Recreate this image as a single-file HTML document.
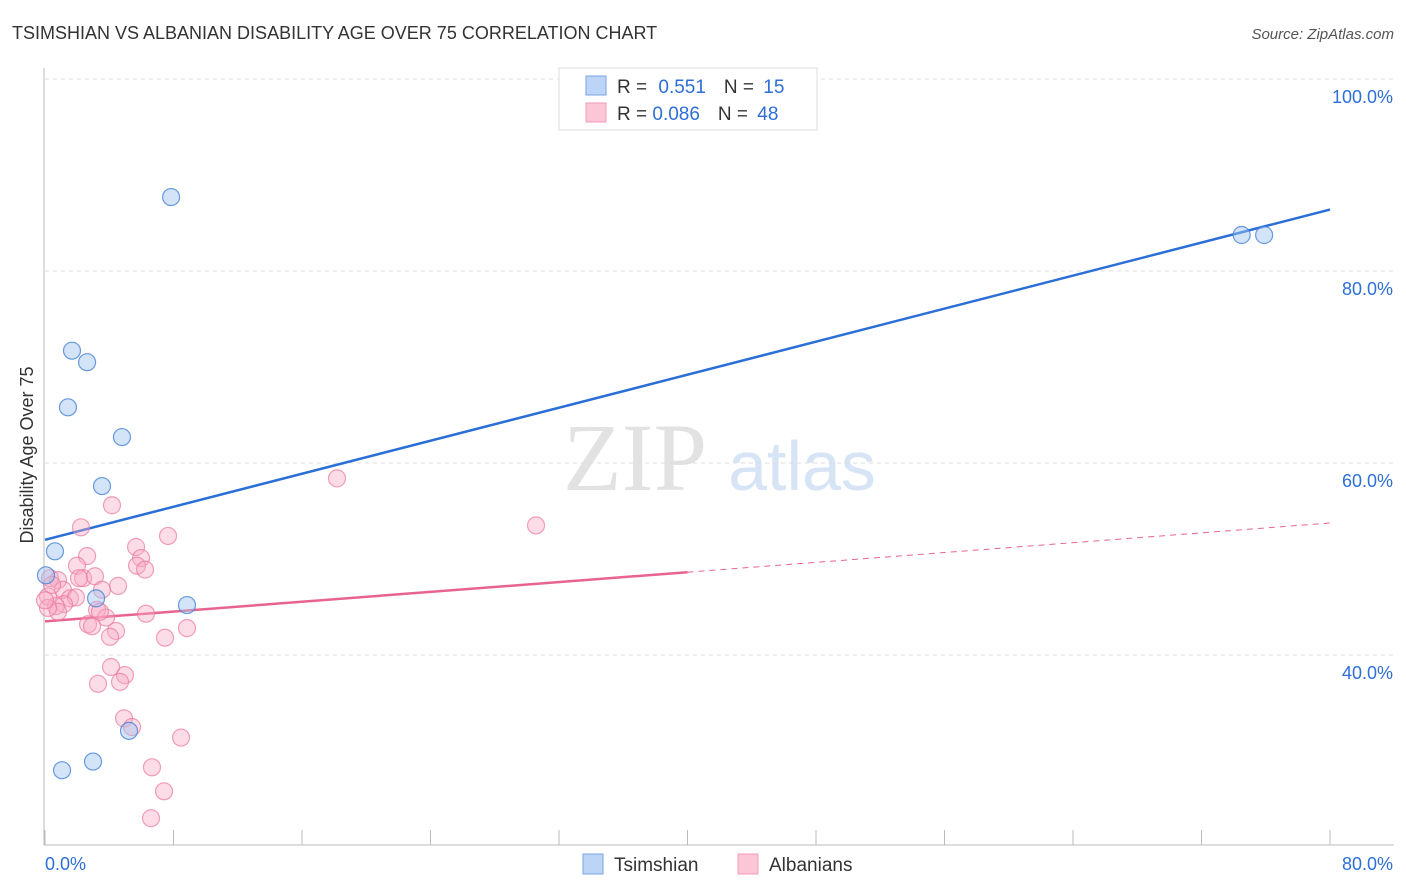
<!DOCTYPE html>
<html><head><meta charset="utf-8"><style>
body{margin:0;background:#fff;font-family:"Liberation Sans",sans-serif;}
svg{display:block}
</style></head><body>
<svg id="chart" width="1406" height="892" xmlns="http://www.w3.org/2000/svg">
<text x="12" y="39" font-size="18" fill="#333">TSIMSHIAN VS ALBANIAN DISABILITY AGE OVER 75 CORRELATION CHART</text>
<text x="1394" y="39" font-size="15" fill="#555" text-anchor="end" font-style="italic">Source: ZipAtlas.com</text>
<g>
<text x="635" y="490" font-size="96" fill="#e2e2e2" font-family="Liberation Serif,serif" text-anchor="middle">ZIP</text>
<text x="802" y="490" font-size="70" fill="#d6e4f5" text-anchor="middle">atlas</text>
</g>
<g id="grid"></g>
<g id="axes"></g>
<g id="lines"></g>
<g id="pts"></g>
<text transform="translate(33,455) rotate(-90)" font-size="18" fill="#333" text-anchor="middle">Disability Age Over 75</text>
<g>
<rect x="559" y="68" width="258" height="62" fill="#fff" stroke="#ddd"/>
<rect x="586" y="76" width="20" height="19" fill="#bcd4f5" stroke="#7aa5e3"/>
<rect x="586" y="103" width="20" height="19" fill="#fcc6d6" stroke="#f09ab5"/>
<text x="617" y="93" font-size="19" fill="#333">R = <tspan fill="#2d6fd6" dx="6">0.551</tspan><tspan fill="#333" dx="18">N = </tspan><tspan fill="#2d6fd6" dx="4">15</tspan></text>
<text x="617" y="120" font-size="19" fill="#333">R = <tspan fill="#2d6fd6">0.086</tspan><tspan fill="#333" dx="18">N = </tspan><tspan fill="#2d6fd6" dx="4">48</tspan></text>
</g>
<g>
<rect x="583" y="854" width="20" height="20" fill="#bcd4f5" stroke="#7aa5e3"/>
<text x="614" y="871" font-size="19" fill="#333">Tsimshian</text>
<rect x="738" y="854" width="20" height="20" fill="#fcc6d6" stroke="#f09ab5"/>
<text x="769" y="871" font-size="19" fill="#333">Albanians</text>
</g>
</svg>
<script>
const blueX=[7.85,1.68,2.62,1.43,4.79,3.55,0.62,0.06,3.18,8.84,5.23,2.99,1.06,74.5,75.9];
const blueY=[87.7,71.7,70.5,65.8,62.7,57.6,50.8,48.3,45.9,45.2,32.1,28.9,28.0,83.75,83.75];
const pinkX=[4.17,2.24,7.66,2.62,5.67,5.98,5.73,6.23,1.99,0.31,0.81,2.37,2.12,3.11,4.55,3.55,1.12,0.19,1.56,1.93,1.18,0.68,0.81,0.19,3.24,6.29,3.80,2.68,2.93,4.42,8.84,4.05,7.47,4.11,4.98,3.30,4.67,4.92,5.42,8.47,6.66,7.41,6.60,18.18,30.57,3.42,0.44,0];
const pinkY=[55.6,53.3,52.4,50.3,51.25,50.1,49.3,48.9,49.3,48.0,47.8,48.0,48.0,48.2,47.2,46.8,46.8,46.1,45.9,46.0,45.3,45.1,44.5,44.9,44.7,44.3,43.9,43.2,43.0,42.5,42.8,41.9,41.8,38.75,37.9,37.0,37.2,33.4,32.5,31.4,28.3,25.8,23.0,58.4,53.5,44.5,47.3,45.7];
const yTicks=[100,80,60,40];
const blueFit=[52.0,86.4];
const pinkFit=[43.5,53.75];
const pinkSolidEnd=40;
const NS="http://www.w3.org/2000/svg";
const sx=v=>45+v*(1285/80);
const sy=v=>79+(100-v)*9.6;
function mk(tag,attrs,parent){const e=document.createElementNS(NS,tag);for(const k in attrs)e.setAttribute(k,attrs[k]);parent.appendChild(e);return e;}
const grid=document.getElementById('grid'),axes=document.getElementById('axes'),lines=document.getElementById('lines'),pts=document.getElementById('pts');
yTicks.forEach(t=>{
 const l=mk('line',{x1:45,x2:1394,y1:sy(t),y2:sy(t),stroke:'#ddd','stroke-dasharray':'4,4'},grid);
 
 
 const tx=mk('text',{x:1393,y:sy(t)+24,'font-size':18,fill:'#2d6fd6','text-anchor':'end'},grid);
 tx.textContent=t.toFixed(1)+'%';
 
 
});
const ya=mk('line',{x1:44,x2:44,y1:68,y2:845,stroke:'#bbb'},axes);


const xa=mk('line',{x1:44,x2:1394,y1:845,y2:845,stroke:'#bbb'},axes);


for(let i=0;i<=10;i++){
 const t=mk('line',{x1:sx(i*8),x2:sx(i*8),y1:830,y2:845,stroke:'#bbb'},axes);
 
 
}
[[0,'start',45],[80,'end',1393]].forEach(([v,a,x])=>{
 const tx=mk('text',{x:x,y:870,'font-size':18,fill:'#2d6fd6','text-anchor':a},axes);
 tx.textContent=v.toFixed(1)+'%';
 
 
});
const lerp=(f,x)=>f[0]+(f[1]-f[0])*x/80;
const bl=mk('line',{x1:sx(0),y1:sy(blueFit[0]),x2:sx(80),y2:sy(blueFit[1]),stroke:'#2a6fd6','stroke-width':2.5},lines);


const pl=mk('line',{x1:sx(0),y1:sy(pinkFit[0]),x2:sx(pinkSolidEnd),y2:sy(lerp(pinkFit,pinkSolidEnd)),stroke:'#e8648f','stroke-width':2.5},lines);


const pd=mk('line',{x1:sx(pinkSolidEnd),y1:sy(lerp(pinkFit,pinkSolidEnd)),x2:sx(80),y2:sy(pinkFit[1]),stroke:'#e8648f','stroke-width':1,'stroke-dasharray':'6,5'},lines);


pinkX.forEach((x,i)=>{
 const c=mk('circle',{cx:sx(x),cy:sy(pinkY[i]),r:8.5,fill:'rgba(248,170,195,0.4)',stroke:'rgba(235,120,160,0.7)','stroke-width':1.2},pts);
 
 
});
blueX.forEach((x,i)=>{
 const c=mk('circle',{cx:sx(x),cy:sy(blueY[i]),r:8.5,fill:'rgba(160,195,240,0.45)',stroke:'rgba(70,130,215,0.8)','stroke-width':1.2},pts);
 
 
});
</script>
</body></html>
